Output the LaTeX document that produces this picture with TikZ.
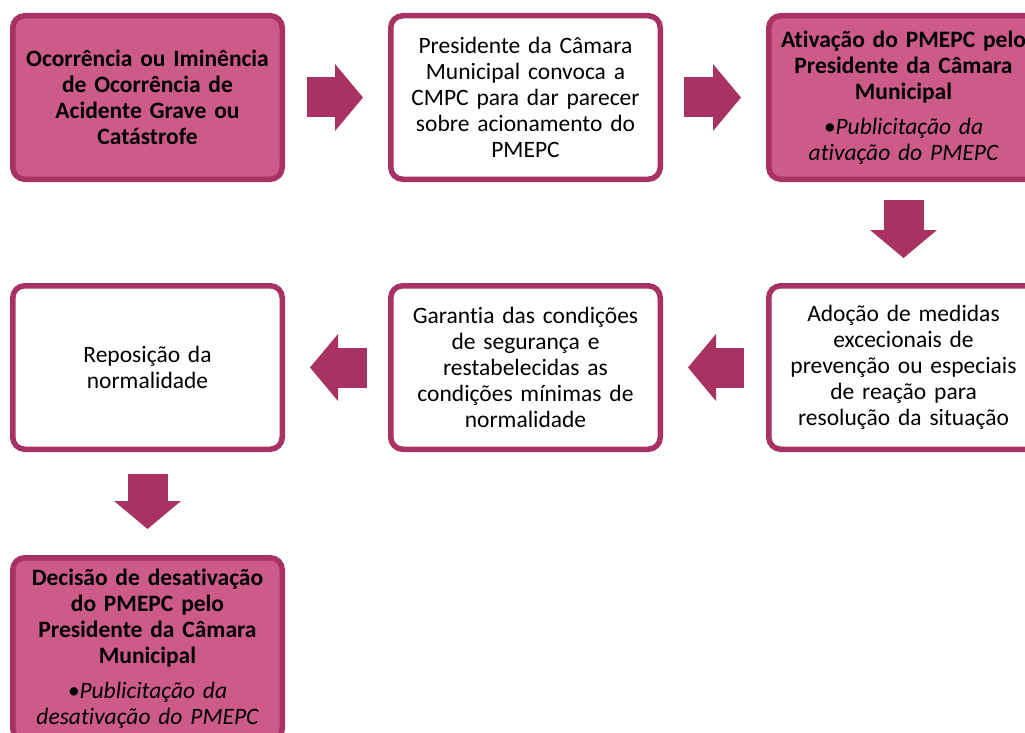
\documentclass[tikz,border=0pt]{standalone}
\usepackage{fontspec}
\setmainfont{Carlito}[Ligatures=NoCommon]
\usetikzlibrary{arrows.meta,positioning}
\definecolor{pmRose}{HTML}{CD5B8A}
\definecolor{pmWine}{HTML}{A83262}

\begin{document}
\begin{tikzpicture}[x=1pt,y=-1pt,font=\fontsize{23.5}{26}\selectfont,
    stepbox/.style={draw=pmWine,line width=5.5pt,rounded corners=12pt,
                fill=white,minimum width=269.5pt,minimum height=163.5pt,
                text width=266pt,inner sep=0pt,align=center},
    keybox/.style={stepbox,fill=pmRose,font=\fontsize{23.5}{26}\selectfont\bfseries},
    blockarrow/.style={line width=40pt,draw=pmWine,
                -{Triangle[length=28pt,width=67pt,line width=0pt]}}]
  \useasboundingbox (0,0) rectangle (1025,733);
  % first row
  \node[keybox] (occ) at (147.5,97.5) {%
    Ocorrência ou Iminência\\de Ocorrência de\\Acidente Grave ou\\Catástrofe};
  \node[stepbox,right=103pt of occ] (conv) {%
    Presidente da Câmara\\Municipal convoca a\\CMPC para dar parecer\\%
    sobre acionamento do\\PMEPC};
  \node[keybox,right=103pt of conv] (ativ) {%
    Ativação do PMEPC pelo\\Presidente da Câmara\\Municipal\\[9pt]
    \mdseries\itshape •Publicitação da\\ativação do PMEPC};
  % second row, right to left
  \node[stepbox,below=101pt of ativ] (medi) {%
    Adoção de medidas\\excecionais de\\prevenção ou especiais\\%
    de reação para\\resolução da situação};
  \node[stepbox,left=103pt of medi] (gara) {%
    Garantia das condições\\de segurança e\\restabelecidas as\\%
    condições mínimas de\\normalidade};
  \node[stepbox,left=103pt of gara] (repo) {Reposição da\\normalidade};
  % last step
  \node[keybox,minimum height=182.5pt,below=103pt of repo] (desa) {%
    Decisão de desativação\\do PMEPC pelo\\Presidente da Câmara\\Municipal\\[9pt]
    \mdseries\itshape •Publicitação da\\desativação do PMEPC};

  \draw[blockarrow] ([xshift=22pt]occ.east) -- ([xshift=-25pt]conv.west);
  \draw[blockarrow] ([xshift=21pt]conv.east) -- ([xshift=-25pt]ativ.west);
  \draw[blockarrow] ([yshift=-18pt]ativ.south) -- ([yshift=25pt]medi.north);
  \draw[blockarrow] ([xshift=-22pt]medi.west) -- ([xshift=25pt]gara.east);
  \draw[blockarrow] ([xshift=-21pt]gara.west) -- ([xshift=25pt]repo.east);
  \draw[blockarrow] ([yshift=-22pt]repo.south) -- ([yshift=26pt]desa.north);
\end{tikzpicture}
\end{document}
